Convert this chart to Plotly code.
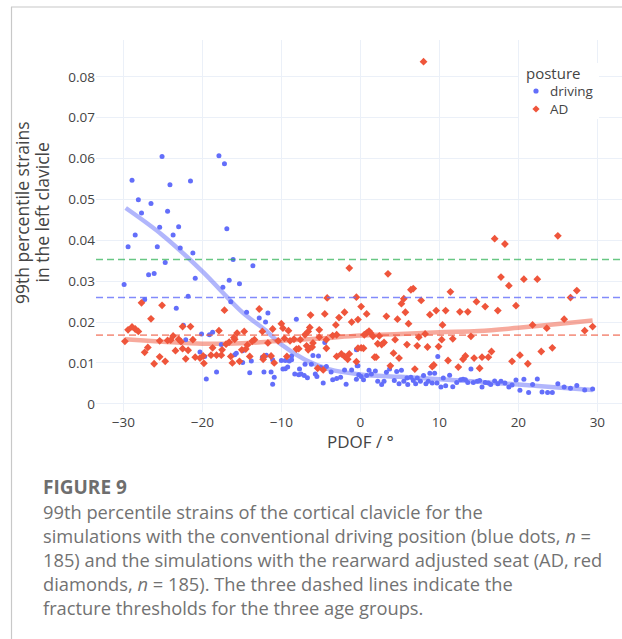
import plotly.graph_objects as go

# ---- data ----
driving_x = [-25.1,-17.9,-17.2,-28.9,-24.1,-21.5,-28.1,-26.5,-27.7,-24.4,-25.4,-23.0,-16.9,-28.5,-23.7,-29.4,-25.7,-22.8,-21.2,-24.7,
             -16.1,-26.8,-26.1,-29.9,-20.9,-16.6,-17.4,-27.3,-21.8,-16.4,-23.3,-22.4,-22.1,-20.1,-19.1,-18.7,-20.3,-19.7,-15.9,-15.7,
             -19.5,-18.2,-17.6,-15.3,
             -13.6,-14.4,-12.8,-11.7,-12.0,-8.1,-14.9,-14.9,-13.8,-12.4,-11.9,-11.1,-14.0,-12.2,-11.3,-10.9,-11.1,-10.0,-9.5,-8.7,
             -9.5,-9.2,-8.3,-7.7,-7.8,-7.5,-7.1,-6.7,-7.0,-6.0,-5.3,-6.2,-5.7,-5.5,-5.0,-4.7,-4.3,-3.7,-3.5,-3.0,-2.5,-2.0,-1.8,-1.1,
             -0.4,-0.5,-0.2,-4.5,-8.7,-9.0,-9.8,
             9.8,-0.3,-0.5,0.1,0.4,0.8,1.1,1.4,1.9,2.2,2.7,3.0,3.3,3.7,4.3,4.6,4.9,5.2,5.5,5.9,6.0,6.4,6.7,7.0,7.2,7.6,8.0,8.3,8.6,
             8.8,9.1,9.4,9.7,10.2,10.5,10.8,11.3,11.7,12.2,12.7,13.0,13.3,13.6,14.0,14.3,14.8,
             15.1,15.4,15.8,16.2,16.5,17.0,17.4,17.8,18.3,18.8,19.2,19.7,20.2,20.7,21.3,21.8,22.4,23.0,23.7,24.3,25.0,25.8,26.6,27.4,
             28.4,29.4]
driving_y = [0.0605,0.0607,0.0587,0.0547,0.0536,0.0545,0.0499,0.0490,0.0467,0.0471,0.0432,0.0433,0.0428,0.0413,0.0413,0.0384,0.0384,0.0381,0.0369,0.0346,
             0.0353,0.0316,0.0319,0.0292,0.0307,0.0302,0.0285,0.0255,0.0263,0.0250,0.0234,0.0192,0.0157,0.0171,0.0169,0.0175,0.0127,0.0116,0.0120,0.0124,
             0.0061,0.0078,0.0145,0.0294,
             0.0338,0.0224,0.0210,0.0222,0.0200,0.0207,0.0130,0.0101,0.0105,0.0114,0.0119,0.0108,0.0076,0.0078,0.0078,0.0065,0.0048,0.0106,0.0106,0.0117,
             0.0086,0.0090,0.0073,0.0085,0.0071,0.0073,0.0069,0.0064,0.0097,0.0118,0.0117,0.0097,0.0073,0.0067,0.0089,0.0051,0.0091,0.0078,0.0059,0.0062,0.0065,0.0083,0.0048,0.0083,
             0.0093,0.0132,0.0071,0.0150,0.0108,0.0105,0.0085,
             0.0116,0.0093,0.0060,0.0067,0.0059,0.0069,0.0082,0.0073,0.0080,0.0055,0.0047,0.0055,0.0077,0.0085,0.0057,0.0079,0.0049,0.0082,0.0055,0.0063,0.0047,0.0065,0.0057,0.0049,0.0063,0.0055,0.0069,0.0049,0.0055,
             0.0075,0.0051,0.0075,0.0051,0.0041,0.0063,0.0044,0.0070,0.0042,0.0052,0.0059,0.0060,0.0059,0.0052,0.0085,0.0052,0.0055,
             0.0057,0.0041,0.0052,0.0051,0.0047,0.0056,0.0049,0.0055,0.0051,0.0041,0.0046,0.0058,0.0033,0.0060,0.0028,0.0047,0.0061,0.0029,0.0028,0.0028,0.0049,0.0041,0.0038,0.0045,
             0.0034,0.0036]

ad_x = [-27.7,-25.1,-17.2,-26.5,-29.4,-28.9,-28.5,-28.1,-29.8,-21.5,-22.5,-23.7,-23.0,-22.7,-24.4,-24.0,-25.4,-21.2,-17.9,-16.0,
        -26.9,-27.3,-23.4,-22.5,-21.8,-25.4,-26.1,-24.7,-22.1,-20.9,-20.3,-19.9,-18.7,-18.9,-18.2,-17.6,-17.5,-17.0,-16.6,-16.2,
        -19.8,-16.4,-15.9,-15.6,
        -1.4,-12.8,-4.2,-0.5,-2.0,-4.5,-6.3,-2.7,-1.1,-0.3,-3.1,-6.4,-5.2,-11.1,-10.0,-9.8,-9.1,-12.4,-14.7,-6.6,-7.0,-7.6,-8.4,-8.9,
        -9.6,-10.4,-5.2,-3.5,-3.0,-4.3,-6.0,-13.4,-13.7,-14.3,-11.7,-15.0,-14.5,-15.3,-14.0,-12.2,-12.3,-11.3,-10.9,-9.3,-8.1,-7.8,
        -6.8,-6.6,-6.1,-4.3,-5.4,-4.7,-3.0,-2.4,-2.0,-1.6,-1.4,-0.5,
        3.5,6.4,6.7,11.4,7.7,14.7,0.1,5.2,5.5,0.8,3.3,4.7,5.7,9.6,10.8,12.6,13.6,8.8,10.4,6.1,0.8,1.1,1.3,1.6,2.4,0.5,8.2,14.0,7.4,
        10.3,11.7,4.4,3.0,2.2,2.7,5.9,7.2,8.5,9.9,-0.3,0.1,0.4,4.2,4.9,1.8,2.0,11.1,13.3,13.0,14.4,3.8,9.1,9.3,6.9,12.4,
        17.0,18.3,25.0,17.8,18.8,20.7,22.4,27.4,26.6,15.8,17.4,19.7,25.8,21.8,23.6,28.4,29.4,15.1,15.4,16.2,16.6,19.2,20.2,21.2,22.9,24.3,
        8.0]
ad_y = [0.0247,0.0241,0.0229,0.0208,0.0181,0.0188,0.0183,0.0177,0.0153,0.0189,0.0189,0.0166,0.0158,0.0152,0.0155,0.0156,0.0154,0.0157,0.0179,0.0162,
        0.0138,0.0126,0.0130,0.0135,0.0131,0.0115,0.0098,0.0104,0.0110,0.0114,0.0112,0.0117,0.0137,0.0119,0.0119,0.0119,0.0132,0.0146,0.0151,0.0100,
        0.0099,0.0116,0.0158,0.0173,
        0.0332,0.0232,0.0259,0.0261,0.0224,0.0220,0.0217,0.0211,0.0200,0.0206,0.0193,0.0187,0.0181,0.0183,0.0196,0.0185,0.0179,0.0177,0.0177,0.0177,0.0169,0.0157,0.0158,0.0154,
        0.0160,0.0154,0.0163,0.0167,0.0169,0.0157,0.0149,0.0157,0.0153,0.0144,0.0149,0.0132,0.0134,0.0104,0.0116,0.0116,0.0109,0.0117,0.0100,0.0116,0.0134,0.0135,
        0.0142,0.0132,0.0139,0.0136,0.0087,0.0083,0.0116,0.0122,0.0116,0.0109,0.0122,0.0103,
        0.0318,0.0279,0.0282,0.0274,0.0253,0.0250,0.0238,0.0245,0.0257,0.0220,0.0214,0.0207,0.0224,0.0228,0.0228,0.0225,0.0225,0.0218,0.0193,0.0196,0.0173,0.0178,0.0173,0.0165,0.0166,0.0169,0.0171,0.0165,0.0163,
        0.0157,0.0159,0.0157,0.0150,0.0147,0.0145,0.0145,0.0142,0.0139,0.0140,0.0136,0.0137,0.0136,0.0124,0.0112,0.0114,0.0114,0.0106,0.0117,0.0109,0.0112,0.0093,0.0091,0.0095,0.0085,0.0090,
        0.0404,0.0391,0.0411,0.0310,0.0289,0.0305,0.0305,0.0277,0.0260,0.0238,0.0228,0.0240,0.0207,0.0193,0.0185,0.0179,0.0189,0.0087,0.0114,0.0114,0.0128,0.0104,0.0119,0.0098,0.0128,0.0137,
        0.0837]

trend_driving_x = [-29.7,-25,-20,-15,-12,-10,-7,-4,0,5,10,15,20,25,29.4]
trend_driving_y = [0.0479,0.0412,0.0324,0.0225,0.0180,0.0145,0.0108,0.0085,0.0072,0.0066,0.0060,0.0054,0.0047,0.0040,0.0034]
trend_ad_x = [-29.8,-25,-20,-15,-10,-5,0,5,10,15,20,25,29.4]
trend_ad_y = [0.0158,0.0152,0.0147,0.0148,0.0154,0.0160,0.0167,0.0171,0.0175,0.0178,0.0186,0.0195,0.0204]

thresholds = [0.0353, 0.0260, 0.0168]
threshold_colors = ["rgba(40,175,80,0.7)", "rgba(99,110,250,0.8)", "rgba(239,85,59,0.6)"]

series_names = ["driving", "AD"]
series_colors = ["#636efa", "#EF553B"]

x_title = "PDOF / °"
y_title_lines = ["99th percentile strains", "in the left clavicle"]
legend_title = "posture"
caption_head = "FIGURE 9"
caption_lines = [
    "99th percentile strains of the cortical clavicle for the",
    "simulations with the conventional driving position (blue dots, <i>n</i> =",
    "185) and the simulations with the rearward adjusted seat (AD, red",
    "diamonds, <i>n</i> = 185). The three dashed lines indicate the",
    "fracture thresholds for the three age groups.",
]

W, H = 622, 639
ML, MR, MT, MB = 96, 0, 40, 227
PW, PH = W - ML - MR, H - MT - MB

def px_x(p):
    return (p - ML) / PW

def px_y(p):
    return (H - MB - p) / PH

fig = go.Figure()
fig.add_trace(go.Scatter(x=trend_driving_x, y=trend_driving_y, mode="lines", line_shape="spline",
                         line=dict(color="rgba(99,110,250,0.5)", width=4.5), showlegend=False, hoverinfo="skip"))
fig.add_trace(go.Scatter(x=trend_ad_x, y=trend_ad_y, mode="lines", line_shape="spline",
                         line=dict(color="rgba(239,85,59,0.5)", width=4.5), showlegend=False, hoverinfo="skip"))
fig.add_trace(go.Scatter(x=driving_x, y=driving_y, mode="markers", name=series_names[0], showlegend=False,
                         marker=dict(color=series_colors[0], size=5, symbol="circle")))
fig.add_trace(go.Scatter(x=ad_x, y=ad_y, mode="markers", name=series_names[1], showlegend=False,
                         marker=dict(color=series_colors[1], size=6, symbol="diamond")))

for t, c in zip(thresholds, threshold_colors):
    fig.add_shape(type="line", xref="paper", x0=0, x1=1, yref="y", y0=t, y1=t,
                  line=dict(color=c, width=1.6, dash="7px,4px"), layer="above")

# page frame
fig.add_shape(type="line", xref="paper", yref="paper", x0=px_x(11), x1=px_x(640), y0=px_y(7), y1=px_y(7),
              line=dict(color="#c8c8c8", width=1.2))
fig.add_shape(type="line", xref="paper", yref="paper", x0=px_x(11.5), x1=px_x(11.5), y0=px_y(7), y1=px_y(660),
              line=dict(color="#c8c8c8", width=1.2))

# axis titles
fig.add_annotation(text=x_title, xref="paper", yref="paper", x=px_x(360.5), y=px_y(441.5),
                   xanchor="center", yanchor="middle", showarrow=False, font=dict(size=17, color="#444"))
for i, t in enumerate(y_title_lines):
    fig.add_annotation(text=t, xref="paper", yref="paper", x=px_x(22 + 19.5 * i), y=px_y(213),
                       xanchor="center", yanchor="middle", textangle=-90, showarrow=False,
                       font=dict(size=17.5, color="#444"))

# legend (drawn inside the plot, top right)
fig.add_shape(type="rect", xref="paper", yref="paper", x0=px_x(519), x1=px_x(599), y0=px_y(63), y1=px_y(119),
              fillcolor="white", line=dict(width=0), layer="above")
fig.add_annotation(text=legend_title, xref="paper", yref="paper", x=px_x(524), y=px_y(73),
                   xanchor="left", yanchor="middle", showarrow=False, font=dict(size=15, color="#444"))
legend_rows = [91, 109]
# circle marker for "driving"
fig.add_shape(type="circle", xref="paper", yref="paper", xsizemode="pixel", ysizemode="pixel",
              xanchor=px_x(536), yanchor=px_y(legend_rows[0]), x0=-2.6, x1=2.6, y0=-2.6, y1=2.6,
              fillcolor=series_colors[0], line=dict(width=0), layer="above")
# diamond marker for "AD"
fig.add_shape(type="path", xref="paper", yref="paper", xsizemode="pixel", ysizemode="pixel",
              xanchor=px_x(536), yanchor=px_y(legend_rows[1]), path="M 0,3.6 L 3.6,0 L 0,-3.6 L -3.6,0 Z",
              fillcolor=series_colors[1], line=dict(width=0), layer="above")
for name, row in zip(series_names, legend_rows):
    fig.add_annotation(text=name, xref="paper", yref="paper", x=px_x(548), y=px_y(row),
                       xanchor="left", yanchor="middle", showarrow=False, font=dict(size=13.5, color="#444"))

# caption
cap_font = dict(family="Open Sans", size=18.3, color="#727272")
fig.add_annotation(text="<b>" + caption_head + "</b>", xref="paper", yref="paper", x=px_x(41), y=px_y(487),
                   xanchor="left", yanchor="middle", showarrow=False,
                   font=dict(family="Open Sans", size=19, color="#6e6e6e"))
for i, line in enumerate(caption_lines):
    fig.add_annotation(text=line, xref="paper", yref="paper", x=px_x(41), y=px_y(511 + 24.2 * i),
                       xanchor="left", yanchor="middle", showarrow=False, font=cap_font)

fig.update_layout(
    template="plotly_white",
    width=W, height=H,
    margin=dict(l=ML, r=MR, t=MT, b=MB, pad=0),
    font=dict(family="Open Sans", size=13.5, color="#444"),
    xaxis=dict(range=[-33.46, 33.12], dtick=10, tick0=0, zeroline=False, showline=False),
    yaxis=dict(range=[-0.002, 0.089], dtick=0.01, tick0=0, zeroline=False, showline=False),
    showlegend=False,
)

fig.write_html("out.html")
